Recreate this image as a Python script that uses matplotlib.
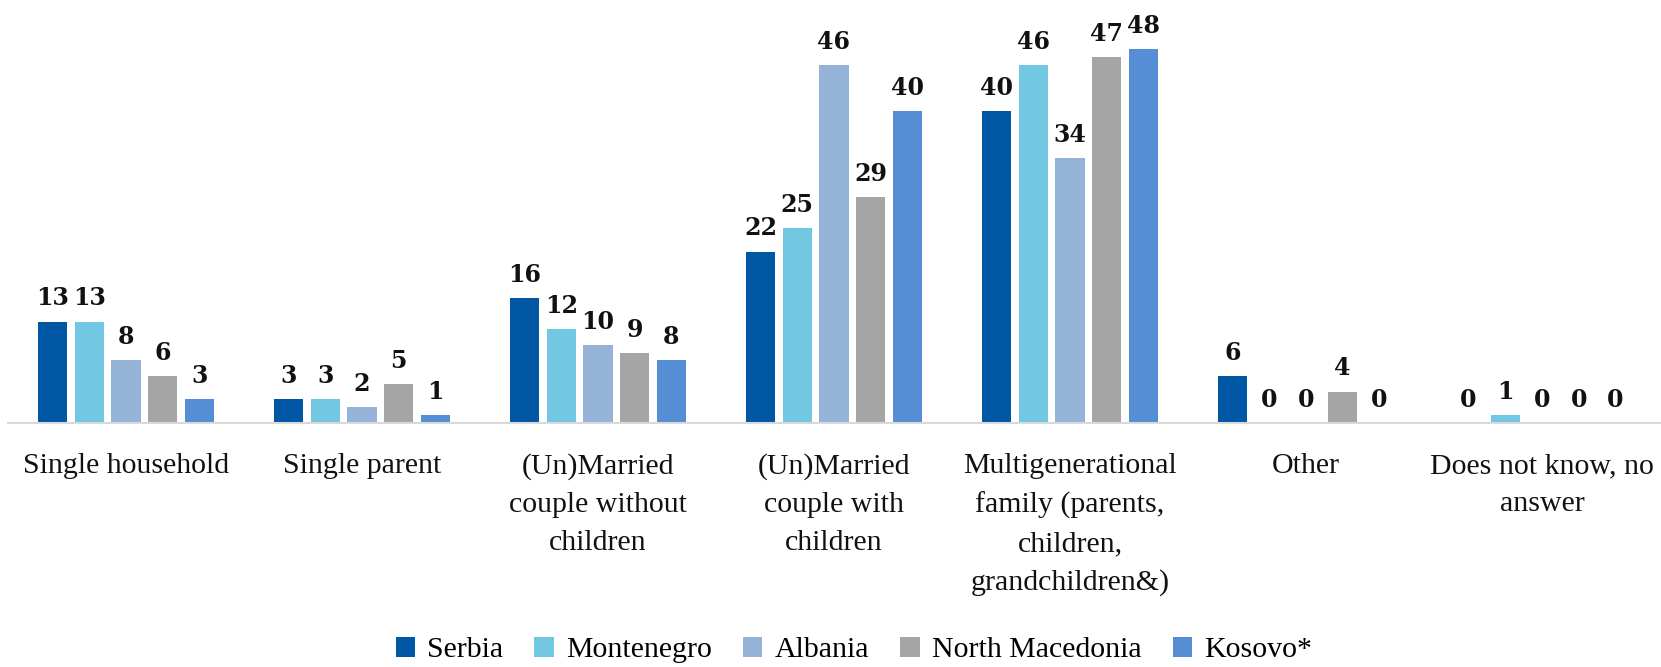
import numpy as np
import matplotlib.pyplot as plt

categories = [
    'Single household',
    'Single parent',
    '(Un)Married\ncouple without\nchildren',
    '(Un)Married\ncouple with\nchildren',
    'Multigenerational\nfamily (parents,\nchildren,\ngrandchildren&)',
    'Other',
    'Does not know, no\nanswer',
]
countries = ['Serbia', 'Montenegro', 'Albania', 'North Macedonia', 'Kosovo*']
serbia = [13, 3, 16, 22, 40, 6, 0]
montenegro = [13, 3, 12, 25, 46, 0, 1]
albania = [8, 2, 10, 46, 34, 0, 0]
north_macedonia = [6, 5, 9, 29, 47, 4, 0]
kosovo = [3, 1, 8, 40, 48, 0, 0]
colors = ['#0058A5', '#72C8E2', '#95B3D7', '#A5A5A5', '#558ED5']

series = [serbia, montenegro, albania, north_macedonia, kosovo]

fig = plt.figure(figsize=(16.61, 6.67), dpi=100)
ax = fig.add_axes([8 / 1661, 0.3663, 1652 / 1661, 0.5832])

x = np.arange(len(categories))
step = 0.1555
width = 0.123
for i, (vals, name, col) in enumerate(zip(series, countries, colors)):
    pos = x + (i - 2) * step
    ax.bar(pos, vals, width=width, color=col, label=name, zorder=2)
    for p, v in zip(pos, vals):
        ax.annotate(str(v), (p, v), xytext=(0, 8), textcoords='offset points',
                    ha='center', va='bottom', fontsize=17, fontweight='bold',
                    family='DejaVu Serif', color='#111111', annotation_clip=False)

ax.set_xlim(-0.5, len(categories) - 0.5)
ax.set_ylim(0, 50)
ax.set_yticks([])
ax.set_xticks(x)
ax.set_xticklabels(categories, fontsize=21.5, family='Liberation Serif', color='#111111',
                   linespacing=1.6)
ax.tick_params(axis='x', length=0, pad=22)
for s in ['top', 'right', 'left']:
    ax.spines[s].set_visible(False)
ax.spines['bottom'].set_color('#D9D9D9')
ax.spines['bottom'].set_linewidth(1.5)

fig.legend(loc='lower center', bbox_to_anchor=(0.514, -0.035), ncol=5, frameon=False,
           prop={'family': 'Liberation Serif', 'size': 21.5}, handlelength=0.65,
           handleheight=0.65, handletextpad=0.4, columnspacing=1.05)

fig.savefig('out.png', dpi=100)
